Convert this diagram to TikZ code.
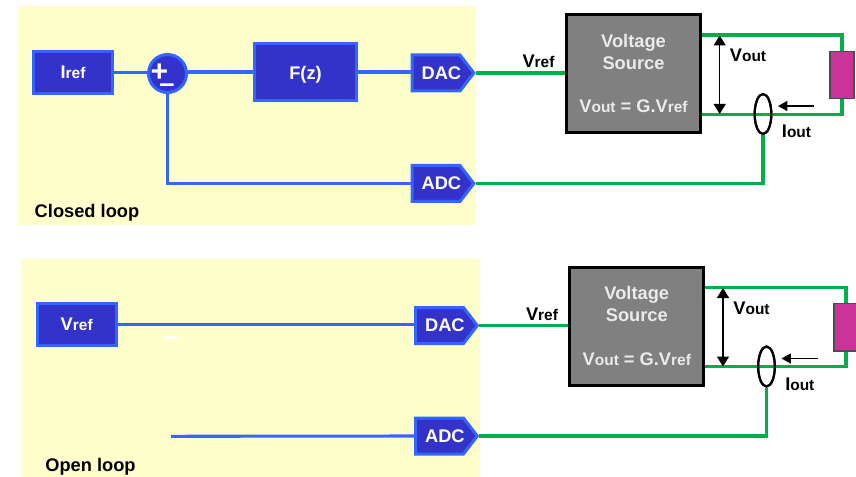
\documentclass[tikz,border=0pt]{standalone}
\usepackage{fontspec}
\setmainfont{Liberation Sans}
\usetikzlibrary{arrows.meta,shapes.symbols,shapes.geometric}
\definecolor{panelc}{HTML}{FFFFCC}
\definecolor{navyc}{HTML}{3333CC}
\definecolor{bluec}{HTML}{3366FF}
\definecolor{greenc}{HTML}{00AE4B}
\definecolor{grayc}{HTML}{808080}
\definecolor{resc}{HTML}{CC3399}
\newcommand{\fbig}{\fontsize{13.7pt}{16.3pt}\selectfont\bfseries}
\newcommand{\smt}[1]{{\fontsize{11.6pt}{16.3pt}\selectfont #1}}
\newcommand{\convtext}[1]{\makebox[36pt][l]{\hspace{7.2pt}#1}}
\tikzset{
  x=0.75pt,y=-0.75pt,
  panel/.style={fill=panelc,draw=none,inner sep=0,anchor=north west},
  bbox/.style={draw=bluec,fill=navyc,line width=2.25pt,text=white,font=\fbig,inner sep=0},
  sumc/.style={circle,draw=bluec,fill=navyc,line width=2.25pt,minimum size=28.5pt,inner sep=0},
  conv/.style={signal,signal to=east,signal from=nowhere,signal pointer angle=105,draw=bluec,fill=navyc,
     line width=2.25pt,text=white,font=\fbig,inner sep=0,minimum height=27pt},
  vsrc/.style={draw=black,fill=grayc,line width=2.25pt,text=white!92!black,font=\fbig,align=center,inner sep=0,
     minimum width=100.5pt,minimum height=88.5pt},
  res/.style={draw=black!70,fill=resc,line width=0.9pt,inner sep=0,minimum width=18pt,minimum height=35.5pt},
  ct/.style={ellipse,draw=black,line width=1.6pt,inner sep=0,minimum width=12.5pt,minimum height=30pt},
  blue wire/.style={draw=bluec,line width=2.3pt},
  green wire/.style={draw=greenc,line width=2.3pt},
  lbl/.style={font=\fbig,anchor=base,inner sep=0},
  sgn/.style={font=\bfseries\fontsize{20.5pt}{20.5pt}\selectfont,text=white,anchor=base,inner sep=0},
  sgnp/.style={font=\bfseries\fontsize{22.5pt}{22.5pt}\selectfont,text=white,anchor=base,inner sep=0},
  vmeas/.style={draw=black,line width=1.1pt,{Triangle[length=7.5pt,width=9pt]}-{Triangle[length=7.5pt,width=9pt]}},
  imeas/.style={draw=black,line width=1pt,-{Triangle[length=7pt,width=7.5pt]}},
}
\begin{document}
\begin{tikzpicture}
\useasboundingbox (0,0) rectangle (856,477);
\clip (0,0) rectangle (856,477);
% ---------- closed loop
\node[panel,minimum width=343.5pt,minimum height=164.25pt] (p1) at (18,6) {};
\node[bbox,minimum width=59.5pt,minimum height=31.5pt] (iref) at (73,72.5) {I\smt{ref}};
\node[sumc] (sum) at (167.5,73.5) {};
\node[sgnp] (plus) at (159.5,82) {+};
\node[sgn] (minus) at (167,93) {–};
\node[bbox,minimum width=76.5pt,minimum height=42.75pt,text height=11pt,text depth=0pt] (fz) at (305.5,72) {F(z)};
\node[conv] (dac1) at (436,73) {\convtext{DAC}};
\node[conv] (adc1) at (436,183.5) {\convtext{ADC}};
\node[lbl] (cl) at (87,218) {Closed loop};
\node[vsrc] (vs1) at (633.5,73.5) {Voltage\\Source\\[16.3pt]V\smt{out} = G.V\smt{ref}};
\node[res] (r1) at (842,75) {};
\node[ct] (ct1) at (763,114) {};
\node[lbl] (vr1) at (538.5,68) {V\smt{ref}};
\node[lbl] (vo1) at (748,62) {V\smt{out}};
\node[lbl] (io1) at (796.5,138) {I\smt{out}};
\coordinate (t1) at (702,35);
\coordinate (b1) at (702,114.5);
\coordinate (tr1) at (842,35);
\coordinate (br1) at (842,114.5);
\coordinate (ah1) at (719.7,35.5);
\coordinate (al1) at (719.7,114);
\coordinate (ia1) at (814,106);
\coordinate (ib1) at (778,106);
\draw[blue wire] (iref.east) -- (iref.east -| sum.west);
\draw[blue wire] (sum.east |- fz.west) -- (fz.west);
\draw[blue wire] (fz.east) -- (fz.east -| dac1.west);
\draw[blue wire] (sum.south) |- (adc1.west);
\draw[green wire] (dac1.east) -- (vs1.west |- dac1.east);
\draw[green wire] (t1) -- (tr1) -- (r1.north);
\draw[green wire] (b1) -- (br1) -- (r1.south);
\draw[green wire] (ct1.south) |- (adc1.east);
\node[ct] at (ct1) {};
\draw[vmeas] (ah1) -- (al1);
\draw[imeas] (ia1) -- (ib1);
% ---------- open loop
\node[panel,minimum width=344.25pt,minimum height=163.5pt] (p2) at (21,259) {};
\node[bbox,minimum width=59.5pt,minimum height=31.5pt] (vref) at (76.7,324.7) {V\smt{ref}};
\node[conv] (dac2) at (439.5,325.5) {\convtext{DAC}};
\node[conv] (adc2) at (439.5,436) {\convtext{ADC}};
\node[sgn] (minus2) at (171,345.8) {–};
\node[lbl] (ol) at (90.5,471.5) {Open loop};
\node[vsrc] (vs2) at (636.8,326) {Voltage\\Source\\[16.3pt]V\smt{out} = G.V\smt{ref}};
\node[res] (r2) at (846,327.3) {};
\node[ct] (ct2) at (766.5,366.5) {};
\node[lbl] (vr2) at (542,320.5) {V\smt{ref}};
\node[lbl] (vo2) at (751.5,314.5) {V\smt{out}};
\node[lbl] (io2) at (799.8,390) {I\smt{out}};
\coordinate (t2) at (705,287.5);
\coordinate (b2) at (705,366.7);
\coordinate (tr2) at (846,287.5);
\coordinate (br2) at (846,366.7);
\coordinate (ah2) at (723,288);
\coordinate (al2) at (723,366.5);
\coordinate (ia2) at (817.5,358.5);
\coordinate (ib2) at (781.5,358.5);
\coordinate (adcfree) at (171,436.3);
\draw[blue wire] (vref.east) -- (vref.east -| dac2.west);
\draw[blue wire] (adcfree) -- (adc2.west);
\draw[green wire] (dac2.east) -- (vs2.west |- dac2.east);
\draw[green wire] (t2) -- (tr2) -- (r2.north);
\draw[green wire] (b2) -- (br2) -- (r2.south);
\draw[green wire] (ct2.south) |- (adc2.east);
\node[ct] at (ct2) {};
\draw[vmeas] (ah2) -- (al2);
\draw[imeas] (ia2) -- (ib2);
\end{tikzpicture}
\end{document}
